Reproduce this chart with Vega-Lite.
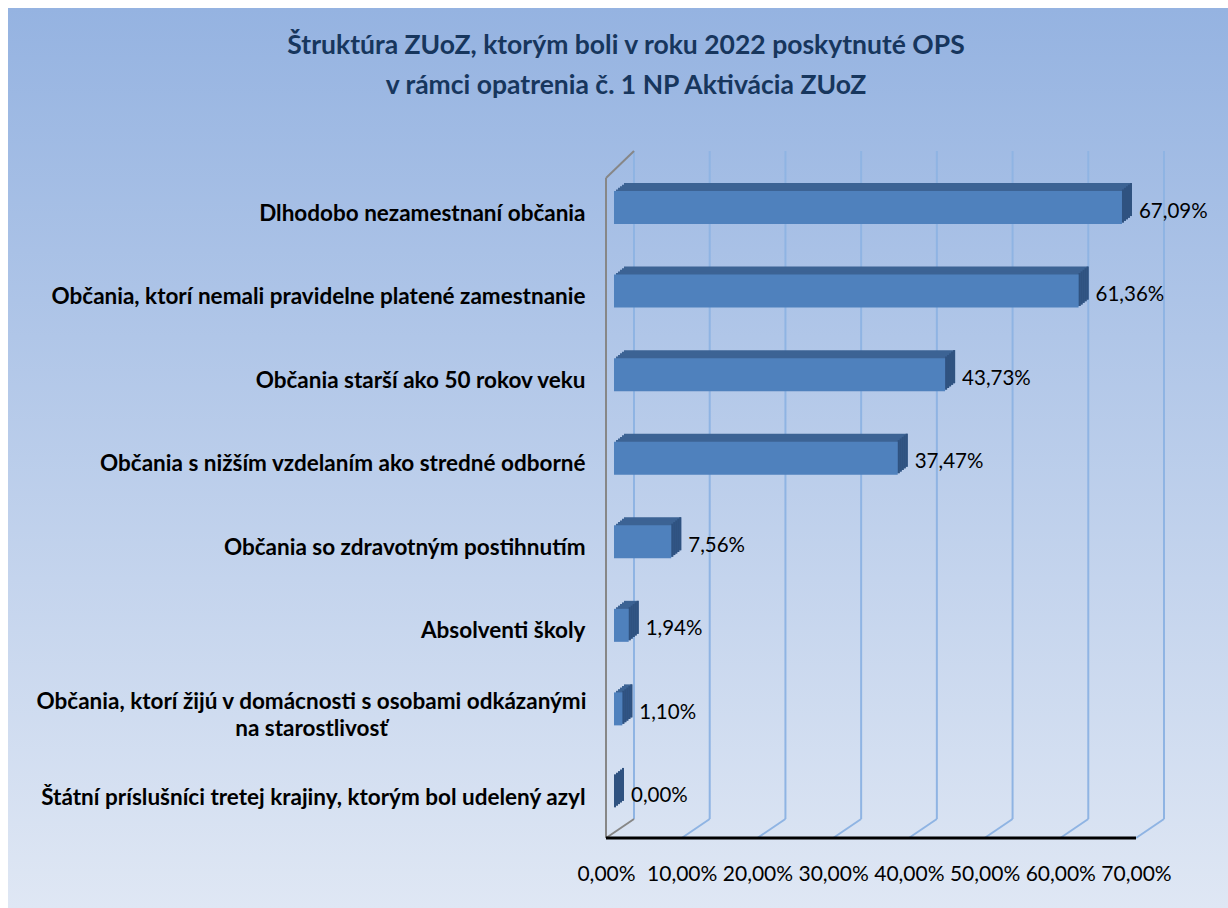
{
  "$schema": "https://vega.github.io/schema/vega-lite/v6.json",
  "width": 1220,
  "height": 900,
  "autosize": {"type": "none"},
  "padding": {"left": 8, "top": 8, "right": 0, "bottom": 0},
  "background": "white",
  "config": {
    "view": {
      "stroke": null,
      "fill": {"gradient": "linear", "x1": 0, "y1": 0, "x2": 0, "y2": 1,
        "stops": [{"offset": 0, "color": "#95b3e1"}, {"offset": 1, "color": "#dfe7f4"}]}
    },
    "locale": {"number": {"decimal": ",", "thousands": " ", "grouping": [3], "currency": ["", " €"]}},
    "font": "Lato"
  },
  "title": {
    "text": ["Štruktúra ZUoZ, ktorým boli v roku 2022 poskytnuté OPS", "v rámci opatrenia č. 1 NP Aktivácia ZUoZ"],
    "anchor": "middle",
    "frame": "group",
    "offset": -91,
    "dx": 8,
    "font": "Lato",
    "fontSize": 26.5,
    "fontWeight": "bold",
    "lineHeight": 40,
    "color": "#17365d"
  },
  "datasets": {
    "bars": [
      {"group": "Dlhodobo nezamestnaní občania", "v": 0.6709},
      {"group": "Občania, ktorí nemali pravidelne platené zamestnanie", "v": 0.6136},
      {"group": "Občania starší ako 50 rokov veku", "v": 0.4373},
      {"group": "Občania s nižším vzdelaním ako stredné odborné ", "v": 0.3747},
      {"group": "Občania so zdravotným postihnutím ", "v": 0.0756},
      {"group": "Absolventi školy", "v": 0.0194},
      {"group": "Občania, ktorí žijú v domácnosti s osobami odkázanými na starostlivosť", "v": 0.011},
      {"group": "Štátní príslušníci tretej krajiny, ktorým bol udelený azyl", "v": 0.0}
    ],
    "ticks": [{"t": 0}, {"t": 0.1}, {"t": 0.2}, {"t": 0.3}, {"t": 0.4}, {"t": 0.5}, {"t": 0.6}, {"t": 0.7}]
  },
  "resolve": {"scale": {"x": "shared", "y": "shared"}},
  "layer": [
    {
      "data": {"name": "ticks"},
      "mark": {"type": "rule", "color": "#8fb4e3", "strokeWidth": 2, "xOffset": 28, "yOffset": -757, "y2Offset": -89},
      "encoding": {
        "x": {"field": "t", "type": "quantitative", "title": null,
          "scale": {"domain": [-0.78981, 0.82151], "nice": false, "zero": false},
          "axis": {"orient": "bottom", "offset": -70, "values": [0, 0.1, 0.2, 0.3, 0.4, 0.5, 0.6, 0.7], "format": ".2%",
            "domain": false, "ticks": false, "grid": false, "labelPadding": 25, "labelFontSize": 21,
            "labelColor": "black", "labelFont": "Lato", "labelOverlap": false, "labelFlush": false}},
        "y": {"value": "height"},
        "y2": {"value": "height"}
      }
    },
    {
      "data": {"name": "ticks"},
      "transform": [{"filter": "datum.t > 0"}],
      "mark": {"type": "rule", "color": "#8fb4e3", "strokeWidth": 2, "xOffset": 28, "x2Offset": 0, "yOffset": -89, "y2Offset": -70},
      "encoding": {
        "x": {"field": "t", "type": "quantitative", "title": null},
        "x2": {"field": "t"},
        "y": {"value": "height"},
        "y2": {"value": "height"}
      }
    },
    {
      "data": {"name": "ticks"},
      "transform": [{"filter": "datum.t == 0"}],
      "layer": [
        {
          "mark": {"type": "rule", "color": "#878787", "strokeWidth": 2, "yOffset": -730, "y2Offset": -70},
          "encoding": {"x": {"field": "t", "type": "quantitative", "title": null}, "y": {"value": "height"}, "y2": {"value": "height"}}
        },
        {
          "mark": {"type": "rule", "color": "#878787", "strokeWidth": 2, "xOffset": 0, "x2Offset": 28, "yOffset": -730, "y2Offset": -757},
          "encoding": {"x": {"field": "t", "type": "quantitative", "title": null}, "x2": {"field": "t"}, "y": {"value": "height"}, "y2": {"value": "height"}}
        },
        {
          "mark": {"type": "rule", "color": "#878787", "strokeWidth": 2, "xOffset": 28, "x2Offset": 0, "yOffset": -89, "y2Offset": -70},
          "encoding": {"x": {"field": "t", "type": "quantitative", "title": null}, "x2": {"field": "t"}, "y": {"value": "height"}, "y2": {"value": "height"}}
        }
      ]
    },
    {
      "data": {"name": "bars"},
      "encoding": {
        "y": {"field": "group", "type": "nominal", "sort": null, "title": null,
          "scale": {"range": [158, 826], "paddingInner": 0.605, "paddingOuter": 0.3},
          "axis": {"orient": "left", "offset": -598, "domain": false, "ticks": false, "grid": false,
            "labelPadding": {"condition": {"test": "indexof(datum.value, 'odkázanými ') > 0", "value": 295}, "value": 21},
            "labelAlign": {"condition": {"test": "indexof(datum.value, 'odkázanými ') > 0", "value": "center"}, "value": "right"},
            "labelOffset": {"condition": {"test": "indexof(datum.value, 'odkázanými ') > 0", "value": -7}, "value": 6},
            "labelExpr": "indexof(datum.value, 'odkázanými ') > 0 ? split(replace(datum.value, 'odkázanými ', 'odkázanými|'), '|') : datum.value",
            "labelFont": "Lato", "labelFontWeight": "bold", "labelFontSize": 22.5, "labelColor": "black",
            "labelLimit": 800, "labelLineHeight": 27}},
        "x": {"field": "v", "type": "quantitative", "title": null}
      },
      "layer": [
        {"mark": {"type": "bar", "color": "#3c6394", "xOffset": 18, "x2Offset": 18, "yOffset": -8}, "encoding": {"x2": {"datum": 0}}},
        {"mark": {"type": "bar", "color": "#3c6394", "xOffset": 16, "x2Offset": 16, "yOffset": -6.4}, "encoding": {"x2": {"datum": 0}}},
        {"mark": {"type": "bar", "color": "#3c6394", "xOffset": 14, "x2Offset": 14, "yOffset": -4.8}, "encoding": {"x2": {"datum": 0}}},
        {"mark": {"type": "bar", "color": "#3c6394", "xOffset": 12, "x2Offset": 12, "yOffset": -3.2}, "encoding": {"x2": {"datum": 0}}},
        {"mark": {"type": "bar", "color": "#3c6394", "xOffset": 10, "x2Offset": 10, "yOffset": -1.6}, "encoding": {"x2": {"datum": 0}}},
        {"mark": {"type": "bar", "color": "#2f5280", "xOffset": 16, "x2Offset": 18, "yOffset": -8}, "encoding": {"x2": {"field": "v"}}},
        {"mark": {"type": "bar", "color": "#2f5280", "xOffset": 14, "x2Offset": 16, "yOffset": -6.4}, "encoding": {"x2": {"field": "v"}}},
        {"mark": {"type": "bar", "color": "#2f5280", "xOffset": 12, "x2Offset": 14, "yOffset": -4.8}, "encoding": {"x2": {"field": "v"}}},
        {"mark": {"type": "bar", "color": "#2f5280", "xOffset": 10, "x2Offset": 12, "yOffset": -3.2}, "encoding": {"x2": {"field": "v"}}},
        {"mark": {"type": "bar", "color": "#2f5280", "xOffset": 8, "x2Offset": 10, "yOffset": -1.6}, "encoding": {"x2": {"field": "v"}}},
        {"mark": {"type": "bar", "color": "#4f81bd", "xOffset": 8, "x2Offset": 8}, "encoding": {"x2": {"datum": 0}}},
        {
          "mark": {"type": "text", "align": "left", "baseline": "middle", "dx": 25, "dy": 4, "font": "Lato", "fontSize": 20.5, "color": "black"},
          "encoding": {"text": {"field": "v", "type": "quantitative", "format": ".2%"}}
        }
      ]
    },
    {
      "data": {"name": "ticks"},
      "transform": [{"filter": "datum.t == 0"}],
      "mark": {"type": "rule", "color": "black", "strokeWidth": 3, "y": "height", "yOffset": -70},
      "encoding": {"x": {"field": "t", "type": "quantitative", "title": null}, "x2": {"datum": 0.7}}
    }
  ]
}
